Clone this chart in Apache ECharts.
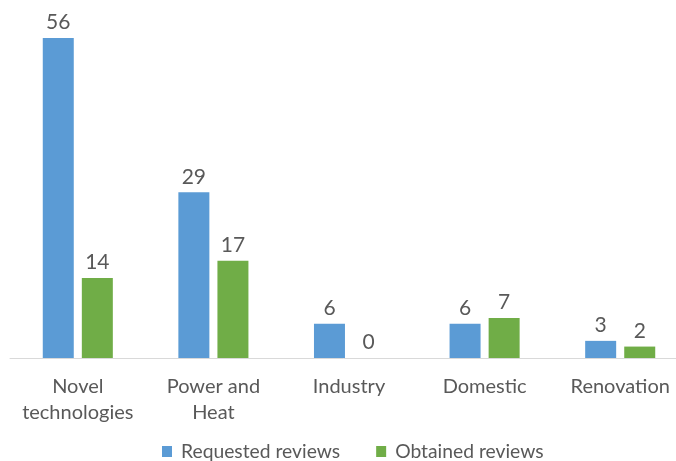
<!DOCTYPE html>
<html>
<head>
<meta charset="utf-8">
<script src="https://cdn.jsdelivr.net/npm/echarts@6/dist/echarts.min.js"></script>
<style>html,body{margin:0;padding:0;background:#fff;}#c{width:676px;height:461px;}</style>
</head>
<body>
<div id="c"></div>
<script>
const categories = ['Novel\ntechnologies', 'Power and\nHeat', 'Industry', 'Domestic', 'Renovation'];
const requested = [56, 29, 6, 6, 3];
const obtained = [14, 17, 0, 7, 2];
const seriesNames = ['Requested reviews', 'Obtained reviews'];

const chart = echarts.init(document.getElementById('c'));
const font = 'Lato';
const txt = '#595959';
const lbl = { show: true, position: 'top', distance: 5, color: txt, fontFamily: font, fontSize: 21 };
chart.setOption({
  animation: false,
  textStyle: { fontFamily: font },
  legend: {
    top: 437, left: 157,
    itemWidth: 10, itemHeight: 11, itemGap: 36,
    icon: 'rect',
    textStyle: { color: txt, fontFamily: font, fontSize: 19.3, padding: [0, 0, 0, 4] },
    data: seriesNames
  },
  grid: { left: 10, width: 678, top: 38, bottom: 103, containLabel: false, outerBoundsMode: 'none' },
  xAxis: {
    type: 'category', data: categories,
    axisLine: { lineStyle: { color: '#D9D9D9', width: 1 } },
    axisTick: { show: false },
    axisLabel: { color: txt, fontFamily: font, fontSize: 20, margin: 16, lineHeight: 26, interval: 0 }
  },
  yAxis: { type: 'value', min: 0, max: 56, show: false, splitLine: { show: false } },
  series: [
    { name: seriesNames[0], type: 'bar', data: requested, barWidth: 31, barGap: '26%', itemStyle: { color: '#5B9BD5' }, label: lbl },
    { name: seriesNames[1], type: 'bar', data: obtained, barWidth: 31, barGap: '26%', itemStyle: { color: '#70AD47' }, label: lbl }
  ]
});
</script>
</body>
</html>
